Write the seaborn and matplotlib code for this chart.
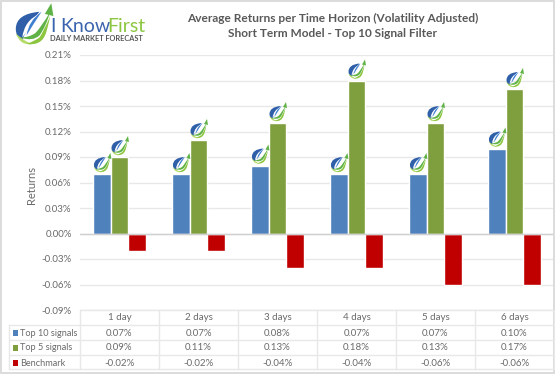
import pandas as pd
import matplotlib.pyplot as plt
import seaborn as sns
from matplotlib.path import Path
from matplotlib.patches import PathPatch, Rectangle
from matplotlib.transforms import Affine2D

days = ['1 day', '2 days', '3 days', '4 days', '5 days', '6 days']
series_names = ['Top 10 signals', 'Top 5 signals', 'Benchmark']
top10 = [0.07, 0.07, 0.08, 0.07, 0.07, 0.10]
top5 = [0.09, 0.11, 0.13, 0.18, 0.13, 0.17]
benchmark = [-0.02, -0.02, -0.04, -0.04, -0.06, -0.06]
y_ticks = [-0.09, -0.06, -0.03, 0.0, 0.03, 0.06, 0.09, 0.12, 0.15, 0.18, 0.21]
colors = ['#4f81bd', '#7f9f3f', '#c00000']

W, H = 555, 374
GRID = '#e8e8e8'
TXT = '#6a6a6a'

sns.set_theme(style='white')
plt.rcParams['font.family'] = ['Lato', 'DejaVu Sans']

df = pd.DataFrame({'day': days * 3,
                   'series': [s for s in series_names for _ in days],
                   'value': top10 + top5 + benchmark})

fig = plt.figure(figsize=(W / 100, H / 100), dpi=100)
ax = fig.add_axes([80 / W, 1 - 310 / H, 474 / W, 255 / H])

sns.barplot(data=df, x='day', y='value', hue='series', order=days, hue_order=series_names,
            palette=colors, width=0.667, gap=0, saturation=1, legend=False, ax=ax)

ax.set_xlim(-0.5, 5.5)
ax.set_ylim(-0.09, 0.21)
ax.set_yticks(y_ticks)
ax.set_yticklabels([f'{v:.2f}%' for v in y_ticks], fontsize=7, color=TXT)
ax.set_xticks([])
ax.set_xlabel('')
ax.set_ylabel('Returns', fontsize=8, color=TXT)
ax.yaxis.set_label_coords(-43 / 474, 0.49)
ax.tick_params(axis='y', length=0, pad=6)
ax.grid(axis='y', color=GRID, linewidth=1)
ax.set_axisbelow(True)
for s in ax.spines.values():
    s.set_visible(False)
ax.axhline(0, color='#d0d0d0', linewidth=1, zorder=1)

# overlay in pixel coordinates for the table, logo and frame
ov = fig.add_axes([0, 0, 1, 1], facecolor='none')
ov.set_xlim(0, W)
ov.set_ylim(H, 0)
ov.axis('off')

ov.add_patch(Rectangle((0.5, 0.5), W - 1.5, H - 2, fill=False, edgecolor='#dcdcdc', linewidth=1.4))

ov.text(333, 18, 'Average Returns per Time Horizon (Volatility Adjusted)', ha='center', va='center',
        fontsize=8.6, fontweight='bold', color='#595959')
ov.text(333, 33, 'Short Term Model - Top 10 Signal Filter', ha='center', va='center',
        fontsize=8.6, fontweight='bold', color='#595959')

# data table under the chart
col_x = [80 + i * 79 for i in range(7)]
row_y = [310, 325, 340, 355, 369]
for y in row_y:
    ov.plot([9 if y != 310 else 80, 554], [y, y], color=GRID, linewidth=1)
for i, x in enumerate(col_x):
    ov.plot([x, x], [310, 369], color=GRID, linewidth=1)
ov.plot([9, 9], [325, 369], color=GRID, linewidth=1)

for i, d in enumerate(days):
    cx = col_x[i] + 39.5
    ov.text(cx, 318, d, ha='center', va='center', fontsize=7, color=TXT)
    for j, vals in enumerate([top10, top5, benchmark]):
        ov.text(cx, row_y[j + 1] + 8, f'{vals[i]:.2f}%', ha='center', va='center', fontsize=7, color=TXT)
for j, name in enumerate(series_names):
    y = row_y[j + 1] + 8
    ov.add_patch(Rectangle((12.5, y - 3), 5, 5.5, color=colors[j], linewidth=0))
    ov.text(20.5, y, name, ha='left', va='center', fontsize=6.6, color=TXT)


def swoosh(pts):
    codes = [Path.MOVETO] + [Path.CURVE3, Path.CURVE3] * ((len(pts) - 1) // 2)
    return Path(pts, codes)


def draw_icon(x, y, s=1.0):
    # x, y is the bottom middle of the icon, in pixels; icon is about 16 wide and 18 tall
    tr = Affine2D().scale(s).translate(x, y) + ov.transData
    shapes = [
        ('#2f5fa8', [(3, -15), (-8, -14), (-8, -7), (-8, -3), (-5, -2), (-2, -9), (3, -15)]),
        ('#ffffff', [(3, -14), (-4, -11), (-5, -3), (-2, -7), (3, -14)]),
        ('#3f7fd0', [(4, -15), (-2, -11), (-3, -4), (0, -9), (4, -15)]),
        ('#b5dc6a', [(-8, -5), (-6, 1), (0, 0), (-4, -1), (-8, -5)]),
        ('#5fb246', [(-6, -3), (0, -1), (3, -4), (6, -8), (8, -15), (4, -8), (1, -5), (-2, -3), (-6, -3)]),
        ('#8cc63f', [(-3, 0), (4, 1), (6, -5), (7, -8), (8, -13), (5, -6), (3, -3), (0, -1), (-3, 0)]),
    ]
    for color, pts in shapes:
        ov.add_patch(PathPatch(swoosh(pts), facecolor=color, edgecolor='none', transform=tr))
    ov.add_patch(PathPatch(Path([(8.5, -19), (5.5, -14), (9.5, -13), (8.5, -19)]), facecolor='#5fb246',
                           edgecolor='none', transform=tr))


# icons sit on top of the two positive bars of every group
fig.canvas.draw()
for bar in ax.patches[:12]:
    if bar.get_height() <= 0:
        continue
    px = ax.transData.transform((bar.get_x() + bar.get_width() / 2, bar.get_height()))
    ix, iy = ov.transData.inverted().transform(px)
    draw_icon(ix, iy - 2)

# company logo, top left
draw_icon(33, 44, 2.15)
ov.text(50.5, 26, 'I', ha='left', va='center', fontsize=14, color='#3a64ad')
ov.text(60, 26, 'Know', ha='left', va='center', fontsize=14, color='#3a64ad')
ov.text(107, 26, 'First', ha='left', va='center', fontsize=14, color='#8cc63f')
ov.text(50, 38, 'Daily Market Forecast'.upper(), ha='left', va='center', fontsize=5.35, color='#555555',
        fontweight='bold')

fig.savefig('out.png', dpi=100)
